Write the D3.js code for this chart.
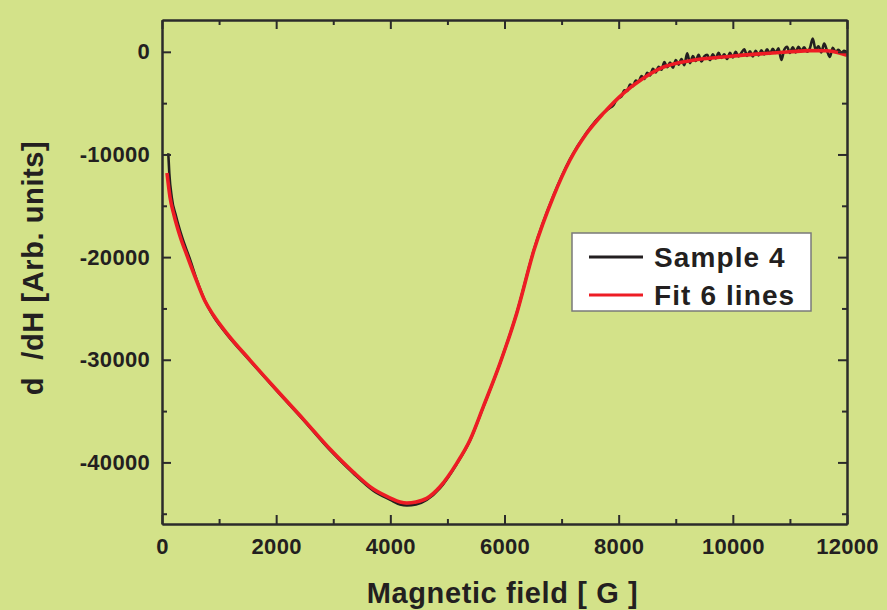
<!DOCTYPE html>
<html>
<head>
<meta charset="utf-8">
<script src="https://cdn.jsdelivr.net/npm/d3@7"></script>
<style>
  body { margin: 0; background: #d3e289; }
  svg { display: block; }
  text { font-family: "Liberation Sans", Arial, sans-serif; font-weight: bold; fill: #231f20; }
</style>
</head>
<body>
<script>
// Sample 4 (measured) - field in G, signal in arb. units
var sampleField = [110, 128, 170, 245, 350, 482, 620, 760, 899, 1133, 1542, 2009, 2475, 2943, 3351,
    3702, 4000, 4170, 4290, 4450, 4637, 4870, 5163, 5396, 5629, 5921, 6214, 6517, 6855, 7148, 7440,
    7731,
    7800, 7850, 7900, 7950, 8000, 8050, 8100, 8150, 8200, 8250, 8300, 8350, 8400, 8450, 8500, 8550,
    8600, 8650, 8700, 8750, 8800, 8850, 8900, 8950, 9000, 9050, 9100, 9150, 9200, 9250, 9300, 9350,
    9400, 9450, 9500, 9550, 9600, 9650, 9700, 9750, 9800, 9850, 9900, 9950, 10000, 10050, 10100, 10150,
    10200, 10250, 10300, 10350, 10400, 10450, 10500, 10550, 10600, 10650, 10700, 10750, 10800, 10850,
    10900, 10950, 11000, 11050, 11100, 11150, 11200, 11250, 11300, 11350, 11400, 11450, 11500, 11550,
    11600, 11650, 11700, 11750, 11800, 11850, 11900, 11950, 12000];
var sampleValue = [-9880, -11830, -14150, -16000, -18040, -20090, -22400, -24350, -25750, -27500,
    -30100, -33000, -35850, -38800, -41050, -42750, -43650, -44100, -44200, -44100, -43650, -42500,
    -40150, -37850, -34600, -30350, -25450, -19250, -14050, -10450, -7850, -5950,
    -5650, -5450, -5250, -4800, -4500, -4350, -3750, -3800, -3200, -3350, -2800, -2900, -2350, -2650,
    -2050, -2300, -1650, -2000, -1450, -1750, -1000, -1500, -1050, -1550, -800, -1250, -700, -1300,
    -150, -1100, -400, -900, -300, -950, -450, -300, -800, -250, -650, -100, -600, -250, -700, -100,
    -550, 0, -450, -100, 250, -400, 50, -450, 100, -350, 150, -250, 250, -200, 300, -100, 350, -800,
    200, 500, -100, 450, -50, 500, 100, 450, 0, 350, 1300, 200, 550, -50, 800, 100, -500, 400, 0,
    200, -100, 100, -50];

// Fit 6 lines
var fitField = [88, 140, 210, 315, 455, 608, 753, 899, 1133, 1542, 2009, 2475, 2943, 3351, 3702, 4000,
    4170, 4290, 4450, 4637, 4870, 5163, 5396, 5629, 5921, 6214, 6517, 6855, 7148, 7440, 7731, 8082,
    8400, 8720, 9300, 9888, 10470, 11000, 11350, 11640, 11850, 12000];
var fitValue = [-11810, -14150, -15900, -17940, -20090, -22330, -24280, -25640, -27400, -30030, -32950,
    -35780, -38700, -40940, -42600, -43470, -43850, -43950, -43850, -43500, -42370, -40090, -37820,
    -34570, -30350, -25480, -19310, -14120, -10540, -7940, -6000, -4040, -2700, -1640, -830, -480,
    -200, 0, 120, 100, -80, -330];

var xMajor = [0, 2000, 4000, 6000, 8000, 10000, 12000];
var xMinor = [1000, 3000, 5000, 7000, 9000, 11000];
var yMajor = [-40000, -30000, -20000, -10000, 0];
var yMinor = [-45000, -35000, -25000, -15000, -5000];

var seriesNames = ["Sample 4", "Fit 6 lines"];
var seriesColors = ["#231f20", "#ed1c24"];

var width = 887, height = 610;
var margin = { top: 20, right: 40, bottom: 86, left: 162 };
var innerW = width - margin.left - margin.right,
    innerH = height - margin.top - margin.bottom;

var svg = d3.select("body").append("svg")
    .attr("width", width)
    .attr("height", height);

svg.append("rect").attr("width", width).attr("height", height).attr("fill", "#d3e289");

var g = svg.append("g")
    .attr("transform", "translate(" + margin.left + "," + margin.top + ")");

var x = d3.scaleLinear().domain([0, 12000]).range([0, innerW]);
var y = d3.scaleLinear().domain([-46000, 3100]).range([innerH, 0]);

// data lines
var line = d3.line()
    .x(function (d) { return x(d[0]); })
    .y(function (d) { return y(d[1]); })
    .curve(d3.curveMonotoneX);

var sample = sampleField.map(function (f, i) { return [f, sampleValue[i]]; });
var fit = fitField.map(function (f, i) { return [f, fitValue[i]]; });

g.append("path").datum(sample)
    .attr("d", line)
    .attr("fill", "none")
    .attr("stroke", seriesColors[0])
    .attr("stroke-width", 2.6)
    .attr("stroke-linejoin", "round");

g.append("path").datum(fit)
    .attr("d", line)
    .attr("fill", "none")
    .attr("stroke", seriesColors[1])
    .attr("stroke-width", 3.6)
    .attr("stroke-linejoin", "round");

// axes, ticks pointing inward on all four sides
function styleAxis(sel) {
    sel.selectAll("path.domain").attr("stroke", "#2b2b2b").attr("stroke-width", 2);
    sel.selectAll(".tick line").attr("stroke", "#2b2b2b").attr("stroke-width", 2);
    sel.selectAll("text")
        .attr("font-size", 22)
        .attr("font-family", "'Liberation Sans', Arial, sans-serif")
        .attr("font-weight", "bold")
        .attr("fill", "#231f20")
        .style("letter-spacing", "0.3px");
}

var xAxis = g.append("g").attr("transform", "translate(0," + innerH + ")")
    .call(d3.axisBottom(x).tickValues(xMajor).tickSize(-9).tickSizeOuter(0).tickPadding(14)
        .tickFormat(d3.format("d")));
styleAxis(xAxis);
styleAxis(g.append("g").attr("transform", "translate(0," + innerH + ")")
    .call(d3.axisBottom(x).tickValues(xMinor).tickSize(-5).tickSizeOuter(0).tickFormat("")));

var yAxis = g.append("g")
    .call(d3.axisLeft(y).tickValues(yMajor).tickSize(-9).tickSizeOuter(0).tickPadding(12)
        .tickFormat(function (d) { return String(d); }));
styleAxis(yAxis);
styleAxis(g.append("g")
    .call(d3.axisLeft(y).tickValues(yMinor).tickSize(-5).tickSizeOuter(0).tickFormat("")));

styleAxis(g.append("g")
    .call(d3.axisTop(x).tickValues(xMajor).tickSize(-9).tickSizeOuter(0).tickFormat("")));
styleAxis(g.append("g")
    .call(d3.axisTop(x).tickValues(xMinor).tickSize(-5).tickSizeOuter(0).tickFormat("")));
styleAxis(g.append("g").attr("transform", "translate(" + innerW + ",0)")
    .call(d3.axisRight(y).tickValues(yMajor).tickSize(-9).tickSizeOuter(0).tickFormat("")));
styleAxis(g.append("g").attr("transform", "translate(" + innerW + ",0)")
    .call(d3.axisRight(y).tickValues(yMinor).tickSize(-5).tickSizeOuter(0).tickFormat("")));

// axis titles
svg.append("text")
    .attr("x", margin.left + innerW / 2 - 2)
    .attr("y", 603)
    .attr("text-anchor", "middle")
    .attr("font-size", 29)
    .style("letter-spacing", "0.6px")
    .text("Magnetic field [ G ]");

svg.append("text")
    .attr("transform", "translate(43,268) rotate(-90)")
    .attr("text-anchor", "middle")
    .attr("font-size", 29)
    .style("letter-spacing", "0.6px")
    .text("d\u00a0\u00a0/dH [Arb. units]");

// legend
var legend = svg.append("g").attr("transform", "translate(572,233)");
legend.append("rect")
    .attr("width", 239).attr("height", 78)
    .attr("fill", "#ffffff")
    .attr("stroke", "#7a7a7a")
    .attr("stroke-width", 1.5);

seriesNames.forEach(function (name, i) {
    var ly = 24 + i * 38;
    legend.append("line")
        .attr("x1", 17).attr("x2", 71)
        .attr("y1", ly).attr("y2", ly)
        .attr("stroke", seriesColors[i])
        .attr("stroke-width", 3.2);
    legend.append("text")
        .attr("x", 82).attr("y", ly)
        .attr("dy", "0.36em")
        .attr("font-size", 28)
        .style("letter-spacing", "1.1px")
        .text(name);
});
</script>
</body>
</html>
